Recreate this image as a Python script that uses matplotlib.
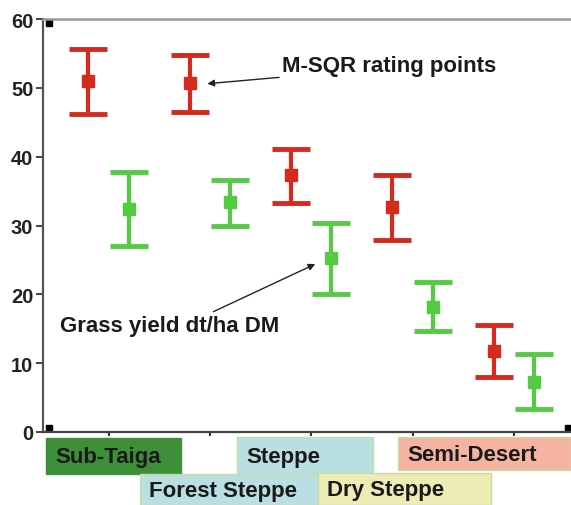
import matplotlib.pyplot as plt
from matplotlib.patches import Rectangle

plt.rcParams['font.family'] = ['Liberation Sans', 'DejaVu Sans']

# zone positions (tick 1..5)
zones = [1, 2, 3, 4, 5]

# M-SQR rating points (red): centre, lower end, upper end
msqr = [51.0, 50.7, 37.4, 32.7, 11.8]
msqr_lo = [46.2, 46.5, 33.3, 27.9, 8.0]
msqr_hi = [55.7, 54.8, 41.1, 37.4, 15.6]

# grass yield dt/ha DM (green)
grass = [32.4, 33.4, 25.3, 18.2, 7.3]
grass_lo = [27.0, 29.9, 20.1, 14.7, 3.3]
grass_hi = [37.8, 36.6, 30.4, 21.8, 11.3]

# zone label boxes: name, colour, pixel box (x0, y0, x1, y1)
zone_names = ['Sub-Taiga', 'Steppe', 'Semi-Desert', 'Forest Steppe', 'Dry Steppe']
zone_colors = ['#3e8f3a', '#b9dfe2', '#f5b4a2', '#b9dfe2', '#eeecb6']
zone_boxes = [(46, 439, 181, 475), (237, 438, 373, 476), (398, 438, 571, 471),
              (140, 475, 318, 506), (318, 474, 491, 506)]

W, H = 571, 506
fig = plt.figure(figsize=(W / 100, H / 100), dpi=100)
ax = fig.add_axes([43 / W, 1 - 433 / H, 1 - 43 / W + 0.01, 413 / H])

red = '#d52a1e'
green = '#55cb44'
off = 0.2

xr = [z - off for z in zones]
xg = [z + off for z in zones]
err_r = [[m - l for m, l in zip(msqr, msqr_lo)], [h - m for m, h in zip(msqr, msqr_hi)]]
err_g = [[m - l for m, l in zip(grass, grass_lo)], [h - m for m, h in zip(grass, grass_hi)]]

ax.errorbar(xr, msqr, yerr=err_r, fmt='s', color=red, ecolor=red, markersize=8.5,
            elinewidth=3, capsize=14, capthick=3.5, zorder=3)
ax.errorbar(xg, grass, yerr=err_g, fmt='s', color=green, ecolor=green, markersize=8.5,
            elinewidth=3, capsize=14, capthick=3.5, zorder=3)

ax.set_xlim(0.353, 5.62)
ax.set_ylim(0, 60)
ax.set_yticks([0, 10, 20, 30, 40, 50, 60])
ax.set_xticks(zones)
ax.set_xticklabels([])
ax.tick_params(axis='y', labelsize=14.5, length=5, width=1.4, color='#444444', pad=2)
ax.tick_params(axis='x', length=3, width=1.5, color='#333333')
for lab in ax.get_yticklabels():
    lab.set_fontweight('bold')
    lab.set_color('#222222')

ax.spines['left'].set_color('#555555')
ax.spines['left'].set_linewidth(1.6)
ax.spines['bottom'].set_color('#444444')
ax.spines['bottom'].set_linewidth(1.6)
ax.spines['top'].set_color('#999999')
ax.spines['top'].set_linewidth(1.8)
ax.spines['right'].set_visible(False)

# corner marks
for cx, cy in [(0.011, 0.99), (0.011, 0.009), (0.984, 0.009)]:
    ax.plot(cx, cy, 's', color='black', markersize=5, transform=ax.transAxes, clip_on=False)

ax.annotate('M-SQR rating points', xy=(1.975, 50.6), xytext=(2.71, 53.3),
            fontsize=16, fontweight='bold', color='#1a1a1a', va='center', ha='left',
            arrowprops=dict(arrowstyle='-|>', color='#222222', lw=1.0,
                            shrinkA=0, shrinkB=0, mutation_scale=10,
                            relpos=(0.08, 0.0)))
ax.annotate('Grass yield dt/ha DM', xy=(3.04, 24.4), xytext=(0.52, 15.5),
            fontsize=16, fontweight='bold', color='#1a1a1a', va='center', ha='left',
            arrowprops=dict(arrowstyle='-|>', color='#222222', lw=1.0,
                            shrinkA=0, shrinkB=0, mutation_scale=10,
                            relpos=(0.70, 1.15)))

# zone boxes below the axis
for name, col, (x0, y0, x1, y1) in zip(zone_names, zone_colors, zone_boxes):
    rect = Rectangle((x0 / W, 1 - y1 / H), (x1 - x0) / W, (y1 - y0) / H,
                     transform=fig.transFigure, facecolor=col,
                     edgecolor='#c8dca0' if col != '#3e8f3a' else col, lw=1)
    fig.add_artist(rect)
    fig.text((x0 + 9) / W, 1 - ((y0 + y1) / 2 + 1) / H, name, fontsize=16,
             fontweight='bold', color='#1a1a1a', va='center', ha='left')

fig.savefig('out.png', dpi=100)
